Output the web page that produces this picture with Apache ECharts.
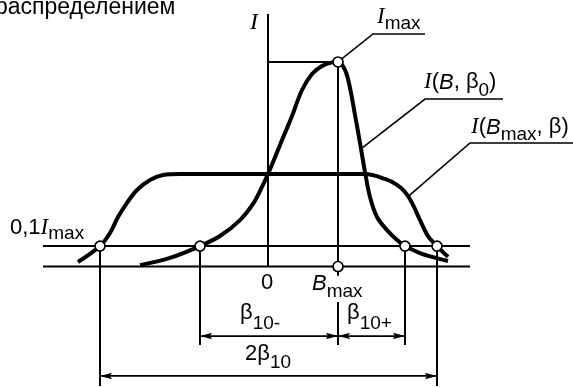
<!DOCTYPE html>
<html>
<head>
<meta charset="utf-8">
<script src="https://cdn.jsdelivr.net/npm/echarts@6/dist/echarts.min.js"></script>
<style>
    body{margin:0;background:#fff}
    #box{width:573px;height:387px}
</style>
</head>
<body>
<div id="box"></div>
<script>
// узкая кривая I(B, β0)
let narrowB=[-12.8,-9.8,-6.8,-4.8,-2.8,-1.5,-0.6,0,1.2,2.4,3.4,4.4,5.4,6.4,7.0,7.7,8.2,8.7,9.2,9.7,10.2,10.9,11.9,12.9,13.7,15.2,16.5,18.0];
let narrowI=[0.07,0.42,1.0,1.49,2.27,3.06,3.89,4.52,5.94,7.36,8.63,9.41,9.80,9.98,10,9.61,8.73,7.41,6.04,4.62,3.40,2.42,1.78,1.30,1.0,0.66,0.46,0.27];
// широкая кривая I(Bmax, β)
let wideB=[-19.0,-16.8,-15.8,-15.0,-14.1,-13.1,-11.8,-10.5,-8.8,0,9.7,11.7,12.9,13.7,14.4,15.2,16.0,16.9,18.0];
let wideI=[0.22,1.0,1.64,2.42,3.11,3.74,4.23,4.47,4.52,4.52,4.52,4.28,3.99,3.64,3.11,2.27,1.49,1.0,0.47];
// точки (кружки)
let dotB=[7,-6.8,13.7,-16.8,16.9,7];
let dotI=[10,1,1,1,1,0];
// тонкие линии
let axisLines=[
    [[0,0],[0,12.35]],
    [[-22.5,0],[20.2,0]],
    [[-22.5,1],[20.2,1]],
    [[0,10],[7,10]],
    [[7,0],[7,10]],
    [[7,0],[7,-0.45]],
    [[7,-1.74],[7,-3.84]],
    [[-16.8,1],[-16.8,-5.84]],
    [[16.9,1],[16.9,-5.84]],
    [[-6.8,1],[-6.8,-3.84]],
    [[13.7,1],[13.7,-3.84]]
];
// выноски
let leaders=[
    [[7,10],[10.5,11.37],[15.7,11.37]],
    [[9.3,5.75],[15.7,8.19],[23.5,8.19]],
    [[14.0,3.42],[20.2,6.04],[30.5,6.04]]
];
// размерные стрелки
let dimFrom=[-6.8,7,-16.8];
let dimTo=[7,13.7,16.9];
let dimI=[-3.40,-3.40,-5.35];

let zip=(a,b)=>a.map((v,i)=>[v,b[i]]);

let ctx=document.createElement("canvas").getContext("2d");
const sans=s=>`${s}px "Liberation Sans"`;
const sansI=s=>`italic ${s}px "Liberation Sans"`;
const serI=s=>`italic ${s}px "Liberation Serif"`;
function label(x,parts) {
    let out=[];
    for (let p of parts) {
        let size=parseFloat(p[1].match(/(\d+)px/)[1]);
        ctx.font=p[1];
        out.push({
            type:"text",x:x,y:p[2]-0.345*size,z:10,
            style:{text:p[0],font:p[1],fill:"#000",textVerticalAlign:"middle"}
        });
        x+=ctx.measureText(p[0]).width;
    }
    return out;
}
let texts=[].concat(
    label(-5,[["распределением",sans(23),16]]),
    label(250,[["I",serI(24),31]]),
    label(377,[["I",serI(23),25],["max",sans(19),30]]),
    label(424,[["I",serI(23),90],["(",sans(22),90],["B",sansI(22),90],[", β",sans(22),90],["0",sans(19),97],[")",sans(22),90]]),
    label(471,[["I",serI(23),135],["(",sans(22),135],["B",sansI(22),135],["max",sans(19),141],[", β)",sans(22),135]]),
    label(10,[["0,1",sans(22),236],["I",serI(23),236],["max",sans(19),240]]),
    label(261,[["0",sans(22),291]]),
    label(312,[["B",sansI(22),291],["max",sans(19),298]]),
    label(240,[["β",sans(22),321],["10-",sans(19),330]]),
    label(347,[["β",sans(22),321],["10+",sans(19),330]]),
    label(245,[["2β",sans(22),362],["10",sans(19),369]])
);

let myChart=echarts.init(document.getElementById("box"));
let option={
    animation:false,
    grid:{left:0,right:0,top:0,bottom:0},
    xAxis:{type:"value",min:-26.8,max:30.5,show:false},
    yAxis:{type:"value",min:-5.89,max:13.03,show:false},
    graphic:texts,
    series:[{
        type:"lines",
        coordinateSystem:"cartesian2d",
        polyline:true,
        data:axisLines.map(c=>({coords:c})),
        lineStyle:{color:"#000",width:2,opacity:1},
        z:2
    },{
        type:"lines",
        coordinateSystem:"cartesian2d",
        polyline:true,
        data:leaders.map(c=>({coords:c})),
        lineStyle:{color:"#000",width:1.6,opacity:1},
        z:2
    },{
        type:"custom",
        data:dimFrom.map((v,i)=>[v,dimTo[i],dimI[i]]),
        encode:{x:[0,1],y:2},
        renderItem:function (params,api) {
            let a=api.coord([api.value(0),api.value(2)]);
            let b=api.coord([api.value(1),api.value(2)]);
            let len=12,w=3.2;
            return {type:"group",children:[
                {type:"line",shape:{x1:a[0],y1:a[1],x2:b[0],y2:b[1]},style:{stroke:"#000",lineWidth:1.8}},
                {type:"polygon",shape:{points:[[a[0],a[1]],[a[0]+len,a[1]-w],[a[0]+len-2,a[1]],[a[0]+len,a[1]+w]]},style:{fill:"#000"}},
                {type:"polygon",shape:{points:[[b[0],b[1]],[b[0]-len,b[1]-w],[b[0]-len+2,b[1]],[b[0]-len,b[1]+w]]},style:{fill:"#000"}}
            ]};
        },
        z:2
    },{
        type:"line",
        data:zip(wideB,wideI),
        smooth:0.35,
        showSymbol:false,
        lineStyle:{color:"#000",width:4},
        z:3
    },{
        type:"line",
        data:zip(narrowB,narrowI),
        smooth:0.35,
        showSymbol:false,
        lineStyle:{color:"#000",width:4},
        z:3
    },{
        type:"scatter",
        data:zip(dotB,dotI),
        symbol:"circle",
        symbolSize:10,
        itemStyle:{color:"#fff",borderColor:"#000",borderWidth:1.7,opacity:1},
        z:5
    }]
};
myChart.setOption(option);
</script>
</body>
</html>
